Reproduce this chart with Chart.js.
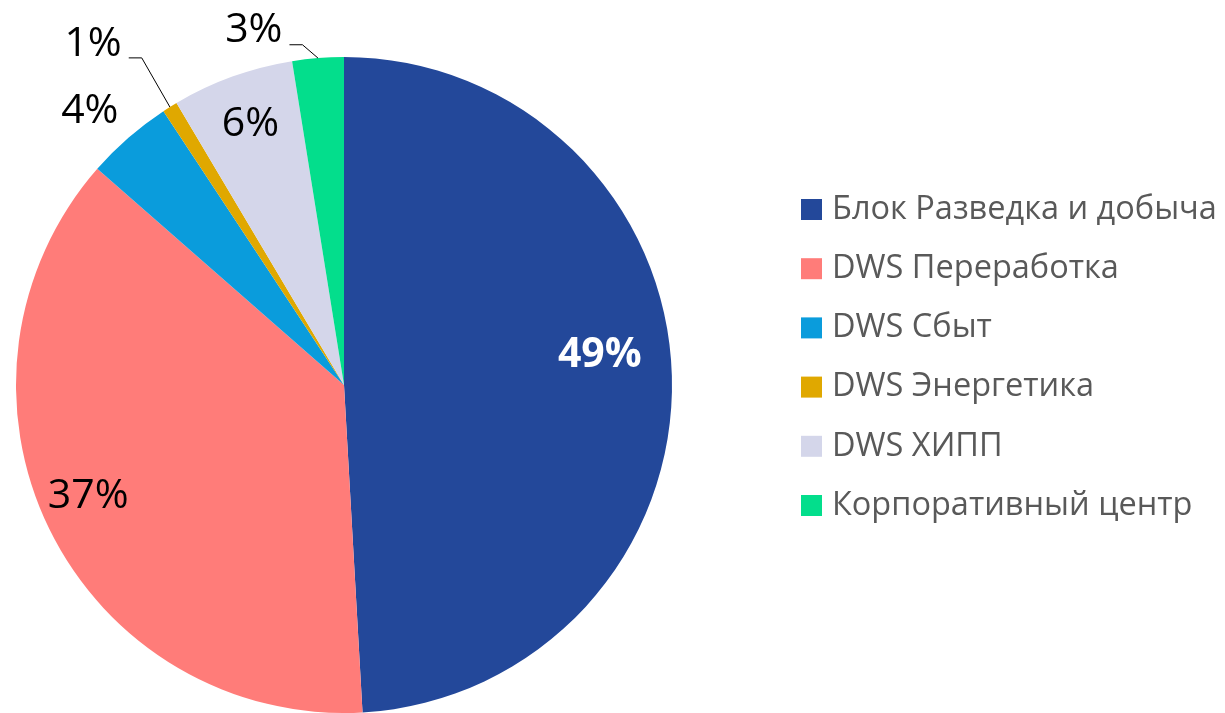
<!DOCTYPE html>
<html>
<head>
<meta charset="utf-8">
<script src="https://cdn.jsdelivr.net/npm/chart.js@4/dist/chart.umd.min.js"></script>
<style>
  html, body { margin: 0; padding: 0; background: #fff; }
  canvas { display: block; }
</style>
</head>
<body>
<canvas id="pie" width="1225" height="713"></canvas>
<script>
// -------- datos ----------
const categories = [
  "Блок Разведка и добыча",
  "DWS Переработка",
  "DWS Сбыт",
  "DWS Энергетика",
  "DWS ХИПП",
  "Корпоративный центр"
];
const shares = [49.1, 37.35, 4.27, 0.75, 6.0, 2.53];
const colors = ["#23489A", "#FF7C79", "#0A9CDC", "#E0A800", "#D4D6EA", "#03DE8C"];

// label placement, in units of radius from centre
const labelPos = [
  { dx: 0.78,  dy: -0.09, inside: true, bold: true },
  { dx: -0.78, dy: 0.34,  inside: true },
  { dx: -0.775, dy: -0.835, inside: false },
  { dx: -0.765, dy: -1.04, inside: false, leader: true },
  { dx: -0.285, dy: -0.795, inside: true },
  { dx: -0.275, dy: -1.08, inside: false, leader: true }
];

const FONT = "'Open Sans', 'DejaVu Sans', sans-serif";
const total = shares.reduce((a, b) => a + b, 0);
const pct = (v) => Math.round(v / total * 100) + "%";

// -------- etiquetas + leyenda ----------
const labelsPlugin = {
  id: "pieLabels",
  afterDatasetsDraw(chart) {
    const ctx = chart.ctx;
    const arcs = chart.getDatasetMeta(0).data;
    ctx.save();
    arcs.forEach((arc, i) => {
      const { x, y, outerRadius: r, startAngle, endAngle } = arc.getProps(["x", "y", "outerRadius", "startAngle", "endAngle"], true);
      const p = labelPos[i];
      const lx = x + p.dx * r, ly = y + p.dy * r;
      ctx.font = (p.bold ? "bold " : "") + "41px " + FONT;
      ctx.fillStyle = p.bold ? "#ffffff" : "#000000";
      ctx.textAlign = "center";
      ctx.textBaseline = "middle";
      const txt = pct(shares[i]);
      ctx.fillText(txt, lx, ly);
      if (p.leader) {
        const w = ctx.measureText(txt).width;
        const mid = (startAngle + endAngle) / 2;
        const ex = x + Math.cos(mid) * r, ey = y + Math.sin(mid) * r;
        const sx = lx + w / 2 + 7, sy = ly + 14;
        ctx.strokeStyle = "#000000";
        ctx.lineWidth = 1;
        ctx.beginPath();
        ctx.moveTo(sx, sy);
        ctx.lineTo(sx + 13, sy);
        ctx.lineTo(ex, ey);
        ctx.stroke();
      }
    });

    // leyenda
    const boxX = 801, top0 = 199, step = 59.2, box = 21;
    ctx.font = "32.5px " + FONT;
    ctx.textAlign = "left";
    ctx.textBaseline = "middle";
    categories.forEach((c, i) => {
      const ty = top0 + i * step;
      ctx.fillStyle = colors[i];
      ctx.fillRect(boxX, ty, box, box);
      ctx.fillStyle = "#595959";
      ctx.fillText(c, boxX + 31, ty + box / 2);
    });
    ctx.restore();
  }
};

new Chart(document.getElementById("pie"), {
  type: "pie",
  data: {
    labels: categories,
    datasets: [{ data: shares, backgroundColor: colors, borderWidth: 0 }]
  },
  options: {
    responsive: false,
    animation: false,
    layout: { padding: { left: 16, right: 553, top: 57, bottom: 0 } },
    plugins: { legend: { display: false }, tooltip: { enabled: false } }
  },
  plugins: [labelsPlugin]
});
</script>
</body>
</html>
